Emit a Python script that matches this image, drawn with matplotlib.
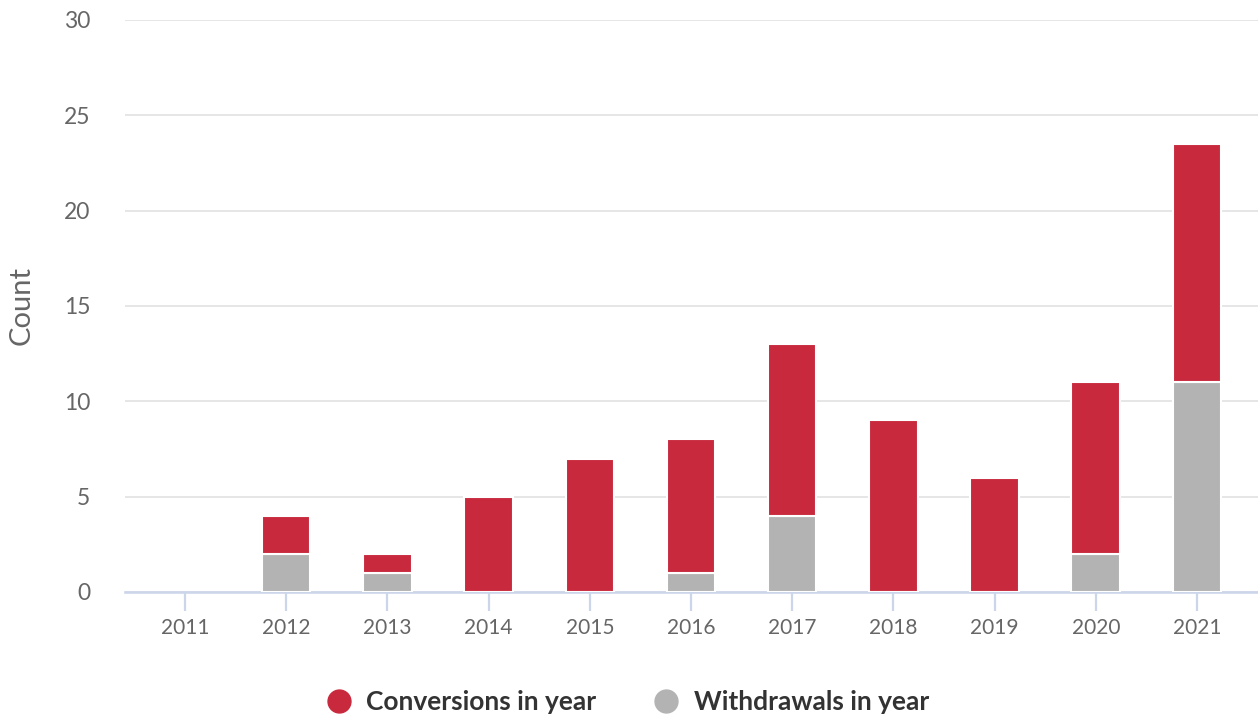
import matplotlib
matplotlib.use("Agg")
import matplotlib.pyplot as plt
from matplotlib.lines import Line2D
import numpy as np

# Data
years = ["2011", "2012", "2013", "2014", "2015", "2016",
         "2017", "2018", "2019", "2020", "2021"]
withdrawals = [0, 2, 1, 0, 0, 1, 4, 0, 0, 2, 11]
conversions = [0, 2, 1, 5, 7, 7, 9, 9, 6, 9, 12.5]
y_ticks = [0, 5, 10, 15, 20, 25, 30]

RED = "#c8293d"
GREY = "#b3b3b3"
AXIS = "#ccd6eb"
GRID = "#e6e6e6"
TEXT = "#666666"

plt.rcParams["font.family"] = ["Lato", "DejaVu Sans"]

fig = plt.figure(figsize=(12.58, 7.17), dpi=100)
ax = fig.add_axes([125 / 1258, 125 / 717, 1133 / 1258, 572 / 717])

x = np.arange(len(years))
w = 0.48
wd = np.array(withdrawals, dtype=float)
cv = np.array(conversions, dtype=float)

# zero-height segments are skipped so they don't break the axis line
m = wd > 0
ax.bar(x[m], wd[m], width=w, color=GREY, edgecolor="white",
       linewidth=1.5, zorder=3)
m = cv > 0
ax.bar(x[m], cv[m], width=w, bottom=wd[m], color=RED,
       edgecolor="white", linewidth=1.5, zorder=3)

ax.set_xlim(-0.593, 10.603)
ax.set_ylim(0, 30)
ax.set_yticks(y_ticks)
ax.set_xticks(x)
ax.set_xticklabels(years)

for s in ["top", "right", "left"]:
    ax.spines[s].set_visible(False)
ax.spines["bottom"].set_color(AXIS)
ax.spines["bottom"].set_linewidth(1.9)
ax.spines["bottom"].set_zorder(2.5)

ax.yaxis.grid(True, color=GRID, linewidth=1.4, zorder=0)
ax.set_axisbelow(True)
ax.tick_params(axis="y", length=0, pad=25, labelsize=16.5, labelcolor=TEXT)
ax.tick_params(axis="x", length=14, width=1.6, color=AXIS, pad=5,
               labelsize=15, labelcolor=TEXT)
for lbl in ax.get_yticklabels():
    lbl.set_horizontalalignment("right")

# y-axis title
fig.text(22 / 1258, 1 - 305 / 717, "Count", rotation=90, ha="center",
         va="center", fontsize=21, color=TEXT)

handles = [
    Line2D([], [], marker="o", linestyle="none", markersize=16.5,
           markerfacecolor=RED, markeredgecolor=RED),
    Line2D([], [], marker="o", linestyle="none", markersize=16.5,
           markerfacecolor=GREY, markeredgecolor=GREY),
]
leg = fig.legend(handles, ["Conversions in year", "Withdrawals in year"],
                 loc="center", bbox_to_anchor=(628 / 1258, 15 / 717),
                 ncol=2, frameon=False, handlelength=0.9,
                 handletextpad=0.6, columnspacing=2.2,
                 prop={"size": 19, "weight": "bold"})
for t in leg.get_texts():
    t.set_color("#333333")

fig.savefig("out.png", dpi=100)
